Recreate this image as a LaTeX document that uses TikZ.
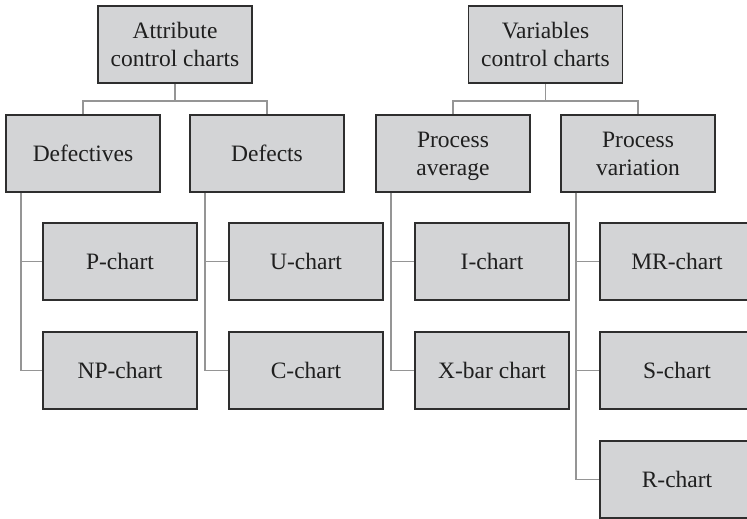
\documentclass[tikz,border=0pt]{standalone}
\usepackage{fontspec}
\setmainfont{Liberation Serif}
\definecolor{boxfill}{HTML}{D3D4D6}
\definecolor{boxline}{HTML}{2E2E2E}
\definecolor{linkgray}{HTML}{959595}
\tikzset{
  chartbox/.style={draw=boxline,fill=boxfill,line width=1.6pt,minimum width=154pt,minimum height=77pt,
    align=center,inner sep=0pt,text=black!88,font=\fontsize{23.5}{28}\selectfont},
  link/.style={draw=linkgray,line width=1.6pt}
}
\begin{document}
\begin{tikzpicture}[x=1pt,y=1pt]
\useasboundingbox (0,0) rectangle (747,-519);
\clip (0,0) rectangle (747,-519);

\node[chartbox] (attr) at (175,-44.5) {Attribute\\control charts};
\node[chartbox] (vari) at (545.5,-44.5) {Variables\\control charts};

\node[chartbox] (defv) at (83,-153.5) {Defectives};
\node[chartbox] (defc) at (267,-153.5) {Defects};
\node[chartbox] (avg) at (453,-153.5) {Process\\\raisebox{0pt}[\height][0pt]{average}};
\node[chartbox] (var) at (638,-153.5) {Process\\variation};

\node[chartbox] (pch) at (120,-261.5) {P-chart};
\node[chartbox] (npch) at (120,-370.5) {NP-chart};
\node[chartbox] (uch) at (306,-261.5) {U-chart};
\node[chartbox] (cch) at (306,-370.5) {C-chart};
\node[chartbox] (ich) at (492,-261.5) {I-chart};
\node[chartbox] (xch) at (492,-370.5) {X-bar chart};
\node[chartbox] (mrch) at (677,-261.5) {MR-chart};
\node[chartbox] (sch) at (677,-370.5) {S-chart};
\node[chartbox] (rch) at (677,-479.5) {R-chart};

% top level brackets
\draw[link] (attr.south) -- ++(0,-17) coordinate (ja);
\draw[link] (defv.north) |- (ja) -| (defc.north);
\draw[link] (vari.south) -- ++(0,-17) coordinate (jv);
\draw[link] (avg.north) |- (jv) -| (var.north);

% second level
\foreach \p/\c in {defv/pch,defv/npch,defc/uch,defc/cch,avg/ich,avg/xch,var/mrch,var/sch,var/rch}
	\draw[link] ([xshift=16pt]\p.south west) |- (\c.west);
\end{tikzpicture}
\end{document}
